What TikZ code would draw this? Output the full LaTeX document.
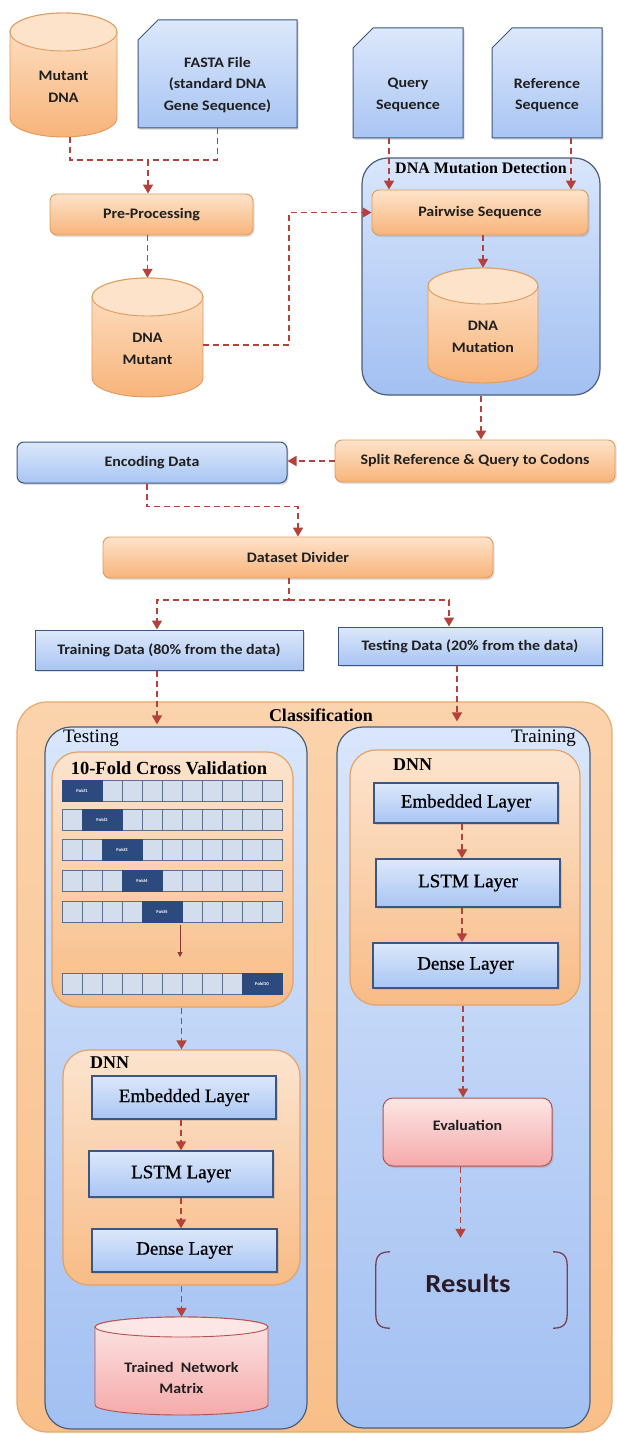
\documentclass[tikz,border=0pt]{standalone}
\usepackage{fontspec}
\usetikzlibrary{arrows.meta,shadows}
\newfontfamily\sansf[FakeStretch=1.1]{Carlito}
\newfontfamily\seriff{Liberation Serif}
\newfontfamily\serifmed[FakeBold=0.8]{Liberation Serif}
\newcommand\labfont{\sansf\bfseries\fontsize{14.5}{21.5}\selectfont}
\newcommand\resfont{\sansf\bfseries\fontsize{26}{30}\selectfont}
\newcommand\serfont{\seriff\fontsize{19}{22}\selectfont}
\newcommand\layfont{\serifmed\fontsize{19}{22}\selectfont}
\newcommand\serbfont{\seriff\bfseries\fontsize{18}{22}\selectfont}
\newcommand\dmdfont{\seriff\bfseries\fontsize{16}{20}\selectfont}
\newcommand\foldfont{\sansf\bfseries\fontsize{4.5}{5}\selectfont}
\definecolor{otop}{HTML}{FDE3CA}
\definecolor{obot}{HTML}{F8B47A}
\definecolor{oborder}{HTML}{DE9A5C}
\definecolor{btop}{HTML}{DCE8FB}
\definecolor{bbot}{HTML}{A9C5F3}
\definecolor{bborder}{HTML}{3B5680}
\definecolor{ptop}{HTML}{FDE6E6}
\definecolor{pbot}{HTML}{F5AAAA}
\definecolor{pborder}{HTML}{B5504C}
\definecolor{arr}{HTML}{B3423C}
\definecolor{ctop}{HTML}{FBD3AC}
\definecolor{cbot}{HTML}{F9BF89}
\definecolor{cborder}{HTML}{E8A86A}
\definecolor{tctop}{HTML}{D9E6FB}
\definecolor{tcbot}{HTML}{A2C0F2}
\definecolor{tcborder}{HTML}{4A5E7C}
\definecolor{octop}{HTML}{FCE4CF}
\definecolor{ocbot}{HTML}{F8BC86}
\definecolor{ocborder}{HTML}{E3A266}
\definecolor{labtext}{HTML}{1F1F1F}
\definecolor{cellfill}{HTML}{D3DDEB}
\definecolor{cellborder}{HTML}{5E6E86}
\definecolor{foldfill}{HTML}{2D4A7E}
\definecolor{brkcol}{HTML}{7B3F55}
\definecolor{restext}{HTML}{2A1A28}

% box from corners
\newcommand\bx[7]{\node[#1,minimum width={#5-#3},minimum height={#6-#4}] (#2) at ({(#3+#5)/2},{(#4+#6)/2}) {#7};}
% cylinder: name, cx, top, bottom, half width, ry, colour prefix, text y, text
\newcommand\dbcyl[9]{%
 \path[#7cylbody] ({#2-#5},{#3+#6}) -- ({#2-#5},{#4-#6}) arc[start angle=180,end angle=0,x radius=#5,y radius=#6] -- ({#2+#5},{#3+#6}) arc[start angle=0,end angle=-180,x radius=#5,y radius=#6] -- cycle;
 \path[#7cyltop] (#2,{#3+#6}) ellipse[x radius=#5,y radius=#6];
 \node[inner sep=0pt,minimum width={2*#5},minimum height={#4-#3}] (#1) at (#2,{(#3+#4)/2}) {};
 \node[lab] (#1t) at (#2,#8) {#9};
}
% document with cut corner: name, x1, y1, x2, y2, text y, text
\newcommand\docsh[7]{%
 \path[docshape] ({#2+20},#3) -- (#4,#3) -- (#4,#5) -- (#2,#5) -- (#2,{#3+20}) -- cycle;
 \node[inner sep=0pt,minimum width={#4-#2},minimum height={#5-#3}] (#1) at ({(#2+#4)/2},{(#3+#5)/2}) {};
 \node[lab] (#1t) at ({(#2+#4)/2},#6) {#7};
}
% a row of the cross validation: y0, fold start cell, number
\newcommand\foldrow[3]{%
 \path[cellrow] (62,#1) rectangle (282,{#1+21});
 \foreach \ci in {1,...,10} {\draw[cellsep] ({62+20*\ci},#1) -- ++(0,21);}
 \node[foldbox,minimum width=40,minimum height=21] (fold#3) at ({62+20*#2+20},{#1+10.5}) {Fold#3};
}

\begin{document}
\begin{tikzpicture}[x=1pt,y=-1pt,
 lab/.style={font=\labfont,text=labtext,align=center,inner sep=0pt},
 shad/.style={drop shadow={opacity=0.25,shadow xshift=1.5pt,shadow yshift=-2pt}},
 obox/.style={lab,rounded corners=7pt,draw=oborder,line width=0.9pt,top color=otop,bottom color=obot,shad},
 bbox/.style={lab,rounded corners=7pt,draw=bborder,line width=1pt,top color=btop,bottom color=bbot,shad},
 dbox/.style={bbox,sharp corners},
 layer/.style={font=\layfont,inner sep=0pt,sharp corners,draw=bborder,line width=1.4pt,top color=btop,bottom color=bbot,shad},
 pbox/.style={lab,rounded corners=10pt,draw=pborder,line width=1pt,top color=ptop,bottom color=pbot,shad},
 docshape/.style={draw=bborder,line width=1pt,top color=btop,bottom color=bbot,shad},
 orangecylbody/.style={draw=oborder,line width=0.9pt,top color=otop,bottom color=obot},
 orangecyltop/.style={draw=oborder,line width=0.9pt,fill=otop},
 pinkcylbody/.style={draw=pborder,line width=0.9pt,top color=ptop,bottom color=pbot},
 pinkcyltop/.style={draw=pborder,line width=0.9pt,fill=ptop},
 bluecont/.style={rounded corners=26pt,draw=tcborder,line width=1.2pt,top color=tctop,bottom color=tcbot,inner sep=0pt},
 orangecont/.style={rounded corners=26pt,draw=ocborder,line width=1.2pt,top color=octop,bottom color=ocbot,inner sep=0pt},
 classcont/.style={rounded corners=30pt,draw=cborder,line width=1.2pt,top color=ctop,bottom color=cbot,inner sep=0pt},
 cellrow/.style={draw=cellborder,line width=0.8pt,fill=cellfill},
 cellsep/.style={draw=cellborder,line width=0.6pt},
 foldbox/.style={inner sep=0pt,draw=foldfill,fill=foldfill,text=white,font=\foldfont},
 flow/.style={draw=arr,line width=1.6pt,dash pattern=on 6pt off 4pt},
 flowarrow/.style={flow,-{Triangle[width=10pt,length=9pt]}},
 smallarrow/.style={draw=arr!80!black,line width=0.8pt,-{Triangle[width=5pt,length=5pt]}},
 brk/.style={draw=brkcol,line width=1.3pt},
 sertitle/.style={font=\serbfont,inner sep=0pt},
 serplain/.style={font=\serfont,inner sep=0pt}
]
\fill[white] (0,0) rectangle (617,1434);
\useasboundingbox (0,0) rectangle (617,1434);

% ---------- top inputs ----------
\dbcyl{mutant}{63.5}{13}{137}{53.5}{19}{orange}{87}{Mutant\\DNA}
\docsh{fasta}{138}{20}{297}{128}{85}{FASTA File\\(standard DNA\\Gene Sequence)}
\docsh{query}{353}{28}{463}{138}{95}{Query\\Sequence}
\docsh{refseq}{492}{28}{602}{138}{95}{Reference\\Sequence}

% ---------- DNA mutation detection ----------
\bx{bluecont}{dmd}{362}{158}{600}{395}{}
\bx{obox}{pre}{50}{194}{253}{235}{Pre-Processing}
\bx{obox}{pair}{372}{190}{588}{235}{Pairwise Sequence}
\dbcyl{dnamut}{147.5}{278}{397}{55.5}{19}{orange}{349}{DNA\\Mutant}
\dbcyl{dnamtn}{483}{268}{383}{55}{18}{orange}{337}{DNA\\Mutation}
\node[font=\dmdfont,inner sep=0pt] (dmdt) at (481,168) {DNA Mutation Detection};

% ---------- encoding / dividing ----------
\bx{bbox}{enc}{17}{442}{287}{483}{Encoding Data}
\bx{obox}{split}{335}{440}{615}{482}{Split Reference \& Query to Codons}
\bx{obox}{div}{103}{537}{493}{578}{Dataset Divider}
\bx{dbox}{trd}{35}{630}{303}{670}{Training Data (80\% from the data)}
\bx{dbox}{tsd}{338}{627}{602}{665}{Testing Data (20\% from the data)}

% ---------- classification ----------
\bx{classcont}{cls}{17}{702}{612}{1432}{}
\bx{bluecont}{tst}{45}{727}{307}{1429}{}
\bx{bluecont}{trn}{337}{727}{590}{1428}{}
\bx{orangecont}{cv}{52}{752}{293}{1007}{}
\foldrow{780}{0}{1}
\foldrow{809}{1}{2}
\foldrow{839}{2}{3}
\foldrow{870}{3}{4}
\foldrow{901}{4}{5}
\foldrow{973}{9}{10}
\coordinate (sa1) at (180,925);
\coordinate (sa2) at (180,957);
\draw[smallarrow] (sa1) -- (sa2);

\bx{orangecont}{dnnl}{63}{1050}{300}{1285}{}
\bx{layer}{embl}{92}{1076}{276}{1119}{Embedded Layer}
\bx{layer}{lstml}{89}{1151}{273}{1197}{LSTM Layer}
\bx{layer}{densel}{92}{1229}{277}{1272}{Dense Layer}
\dbcyl{tnm}{181.5}{1317}{1415}{86.5}{10}{pink}{1378}{Trained~ Network\\Matrix}

\bx{orangecont}{dnnr}{350}{750}{580}{1005}{}
\bx{layer}{embr}{374}{783}{558}{823}{Embedded Layer}
\bx{layer}{lstmr}{376}{859}{560}{907}{LSTM Layer}
\bx{layer}{denser}{373}{943}{558}{988}{Dense Layer}
\bx{pbox}{eval}{383}{1098}{552}{1166}{}
\node[lab] (evalt) at (467.5,1125) {Evaluation};
\node[inner sep=0pt,minimum width=191,minimum height=76] (res) at (471.5,1290) {};
\node[font=\resfont,text=restext,inner sep=0pt] (rest) at (468,1283) {Results};
\draw[brk] ([xshift=14pt]res.north west) .. controls ([xshift=4pt]res.north west) and ([yshift=-4pt]res.north west) .. ([yshift=-14pt]res.north west) -- ([yshift=14pt]res.south west) .. controls ([yshift=4pt]res.south west) and ([xshift=4pt]res.south west) .. ([xshift=14pt]res.south west);
\draw[brk] ([xshift=-14pt]res.north east) .. controls ([xshift=-4pt]res.north east) and ([yshift=-4pt]res.north east) .. ([yshift=-14pt]res.north east) -- ([yshift=14pt]res.south east) .. controls ([yshift=4pt]res.south east) and ([xshift=-4pt]res.south east) .. ([xshift=-14pt]res.south east);

% titles
\node[sertitle] (clst) at (321,715) {Classification};
\node[serplain,anchor=west] (tstt) at (63,738) {Testing};
\node[serplain,anchor=east] (trnt) at (576,738) {Training};
\node[font=\seriff\bfseries\fontsize{18.5}{22}\selectfont,inner sep=0pt] (cvt) at (169,768) {10-Fold Cross Validation};
\node[sertitle,anchor=west] (dnnlt) at (90,1063) {DNN};
\node[sertitle,anchor=west] (dnnrt) at (393,765) {DNN};

% ---------- connectors ----------
\coordinate (j1) at (148,160);
\draw[flow] ([xshift=6.5pt]mutant.south) |- (j1);
\draw[flow] (fasta.south) |- (j1);
\draw[flowarrow] (j1) -- (j1 |- pre.north);
\draw[flowarrow] (pre.south -| dnamut.north) -- (dnamut.north);
\draw[flowarrow] ([yshift=-7.5pt]dnamut.east) -- ++(86,0) |- (pair.west);
\draw[flowarrow] ([xshift=-19pt]query.south) -- ([xshift=-19pt]query.south |- pair.north);
\draw[flowarrow] ([xshift=24pt]refseq.south) -- ([xshift=24pt]refseq.south |- pair.north);
\draw[flowarrow] (pair.south -| dnamtn.north) -- (dnamtn.north);
\draw[flowarrow] (dmd.south) -- (dmd.south |- split.north);
\draw[flowarrow] (split.west) -- (split.west -| enc.east);
\draw[flowarrow] ([xshift=-5pt]enc.south) -- ++(0,23) -| (div.north);
\coordinate (j2) at (289,600);
\coordinate (jl) at (157,600);
\coordinate (jr) at (449,600);
\draw[flow] (div.south -| j2) -- (j2);
\draw[flowarrow] (j2) -- (jl) -- (jl |- trd.north);
\draw[flowarrow] (j2) -- (jr) -- (jr |- tsd.north);
\draw[flowarrow] ([xshift=-12pt]trd.south) -- ([xshift=-12pt,yshift=2pt]trd.south |- tst.north);
\draw[flowarrow] ([xshift=-13pt]tsd.south) -- ([xshift=-13pt,yshift=5pt]tsd.south |- trn.north);
\draw[flowarrow] (cv.south -| dnnl.north) -- (dnnl.north);
\draw[flowarrow] (embl.south -| lstml.north) -- (lstml.north);
\draw[flowarrow] (lstml.south) -- (lstml.south |- densel.north);
\draw[flowarrow] (dnnl.south) -- (tnm.north);
\draw[flowarrow] ([xshift=-4pt]embr.south) -- ([xshift=-4pt]embr.south |- lstmr.north);
\draw[flowarrow] ([xshift=-6pt]lstmr.south) -- ([xshift=-6pt]lstmr.south |- denser.north);
\draw[flowarrow] ([xshift=-2pt]dnnr.south) -- ([xshift=-2pt]dnnr.south |- eval.north);
\draw[flowarrow, shorten >=14pt] ([xshift=-7pt]eval.south) -- ([xshift=-7pt]eval.south |- res.north);
\end{tikzpicture}
\end{document}
